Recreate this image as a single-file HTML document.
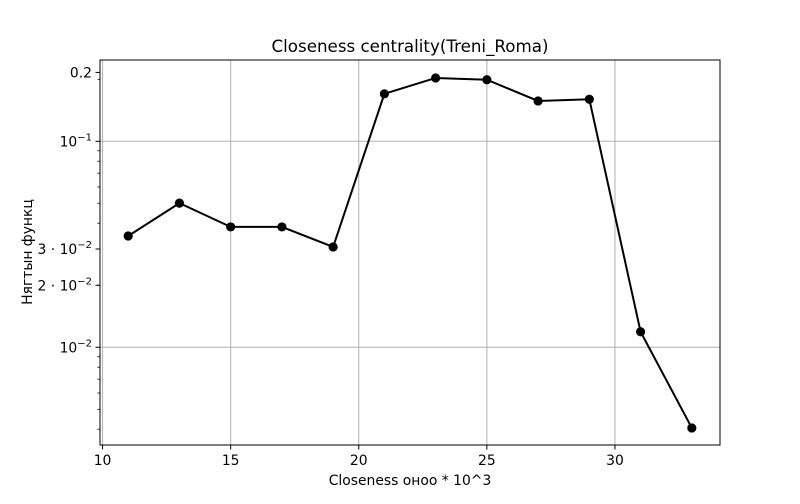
<!DOCTYPE html>
<html><head><meta charset="utf-8"><style>
body{margin:0;background:#fff;font-family:"DejaVu Sans","Liberation Sans",sans-serif;}
svg text{font-family:"DejaVu Sans","Liberation Sans",sans-serif;fill:#000}
</style></head><body>
<svg id="chart" width="800" height="500"></svg>
<script>
const xValues=[11,13,15,17,19,21,23,25,27,29,31,33];
const yValues=[0.0347,0.0501,0.0384,0.0384,0.0307,0.170,0.203,0.199,0.157,0.160,0.0119,0.00406];
const xTicks=[10,15,20,25,30];
const yMajorTicks=[0.1,0.01];
const yMajorLabels=["10","10"];
const yMajorExp=["−1","−2"];
const yExtraTicks=[0.216,0.03,0.02];
const yExtraLabels=["0.2","3 · 10","2 · 10"];
const yExtraExp=["","−2","−2"];
const L=100,R=720,T=60,B=445;
const xMin=9.9,xMax=34.1;
function sx(v){return L+(v-xMin)/(xMax-xMin)*(R-L);}
function sy(v){return 347.3-(Math.log10(v)+2)*206;}
const svg=document.getElementById('chart');
const NS='http://www.w3.org/2000/svg';
function mk(tag,attrs,parent){const e=document.createElementNS(NS,tag);for(const k in attrs)e.setAttribute(k,attrs[k]);(parent||svg).appendChild(e);return e;}
xTicks.forEach(t=>{const g=mk('line',{x1:sx(t),x2:sx(t),y1:T,y2:B,stroke:'#b0b0b0','stroke-width':1});

});
yMajorTicks.forEach(t=>{const g=mk('line',{x1:L,x2:R,y1:sy(t),y2:sy(t),stroke:'#b0b0b0','stroke-width':1});

});
for(let d=-3;d<=-1;d++){for(let m=2;m<=9;m++){const v=m*Math.pow(10,d);const y=sy(v);if(y<T||y>B)continue;
const t=mk('line',{x1:L-2.5,x2:L,y1:y,y2:y,stroke:'#000','stroke-width':0.8});

}}
const pts=xValues.map((x,i)=>sx(x)+','+sy(yValues[i])).join(' ');
const pl=mk('polyline',{points:pts,fill:'none',stroke:'#000','stroke-width':2});


xValues.forEach((x,i)=>{const c=mk('circle',{cx:sx(x),cy:sy(yValues[i]),r:4.6,fill:'#000'});

});
const fr=mk('rect',{x:L,y:T,width:R-L,height:B-T,fill:'none',stroke:'#000','stroke-width':1});


xTicks.forEach(t=>{mk('line',{x1:sx(t),x2:sx(t),y1:B,y2:B+4.5,stroke:'#000','stroke-width':1});
const tx=mk('text',{x:sx(t),y:B+20,'text-anchor':'middle','font-size':13.9});tx.textContent=t;

});
function ylab(v,lab,exp){const y=sy(v);mk('line',{x1:L-4.5,x2:L,y1:y,y2:y,stroke:'#000','stroke-width':1});
const tx=mk('text',{x:L-8,y:y+5,'text-anchor':'end','font-size':13.9,'xml:space':'preserve'});


if(exp){const a=document.createElementNS(NS,'tspan');a.textContent=lab;tx.appendChild(a);
const b=document.createElementNS(NS,'tspan');b.setAttribute('dy','-6');b.setAttribute('font-size','10');b.textContent=exp;tx.appendChild(b);}
else tx.textContent=lab;}
yMajorTicks.forEach((v,i)=>ylab(v,yMajorLabels[i],yMajorExp[i]));
yExtraTicks.forEach((v,i)=>ylab(v,yExtraLabels[i],yExtraExp[i]));
</script>
<svg style="position:absolute;left:0;top:0" width="800" height="500">
<text x="410" y="52" text-anchor="middle" font-size="16.7">Closeness centrality(Treni_Roma)</text>
<text x="410" y="485" text-anchor="middle" font-size="13.9">Closeness оноо * 10^3</text>
<text x="32" y="252" text-anchor="middle" font-size="13.9" transform="rotate(-90 32 252)">Нягтын функц</text>
</svg>
</body></html>
